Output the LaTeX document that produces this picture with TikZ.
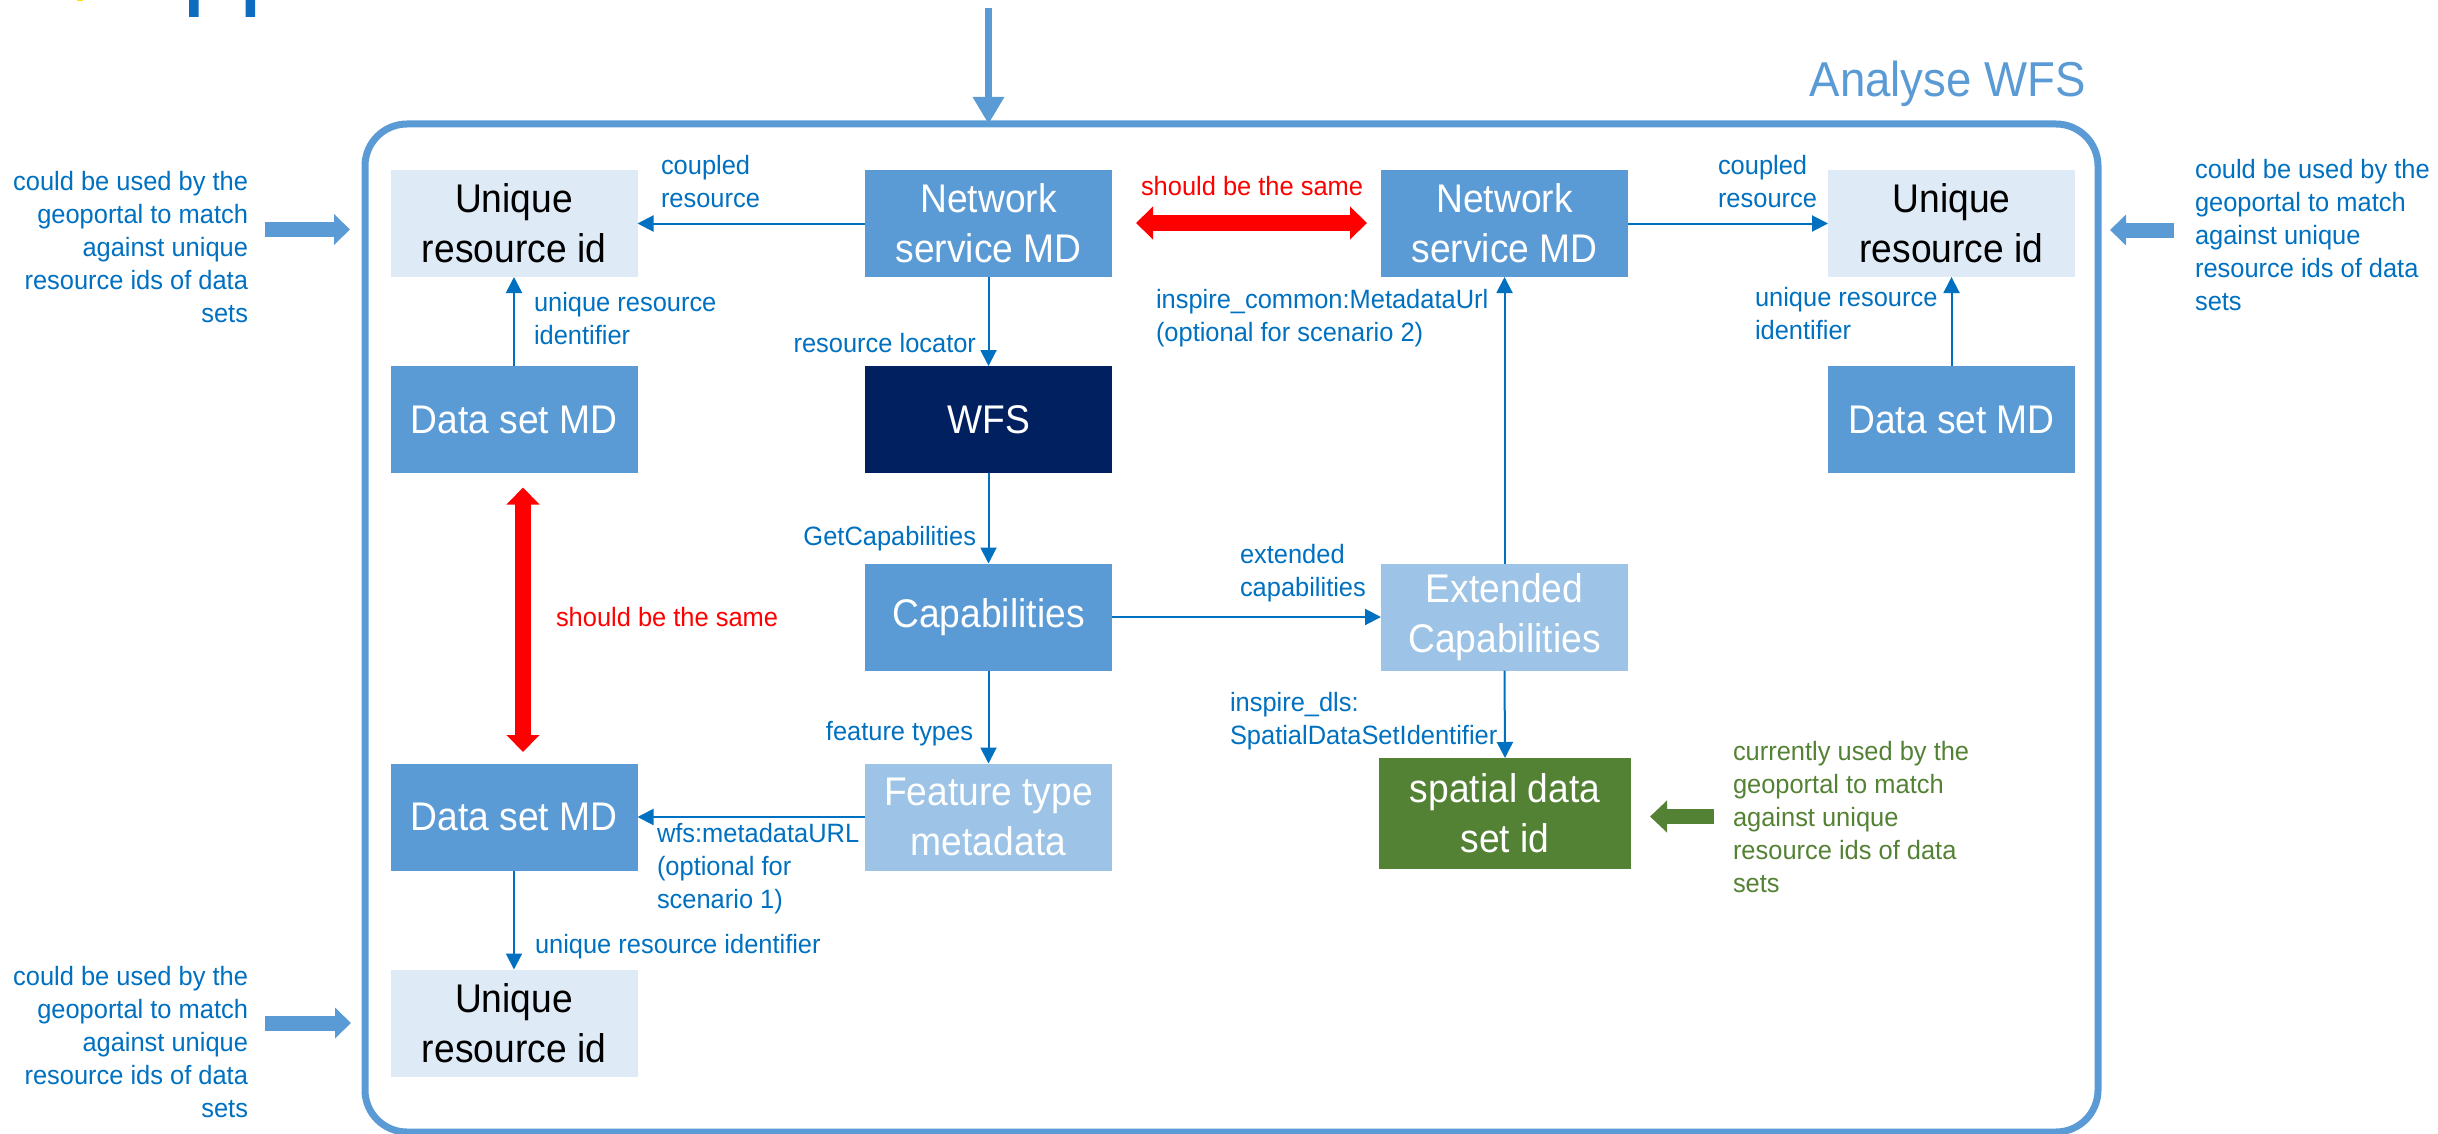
\documentclass[tikz,border=0pt]{standalone}
\usepackage{fontspec}
\setmainfont{Liberation Sans}
\newfontfamily\lblfont[FakeStretch=0.96]{Liberation Sans}
\newfontfamily\boxfont[FakeStretch=0.93]{Liberation Sans}
\usetikzlibrary{arrows.meta}
\definecolor{midblue}{HTML}{5B9BD5}
\definecolor{palefill}{HTML}{DEEAF6}
\definecolor{lightfill}{HTML}{9DC3E6}
\definecolor{navyfill}{HTML}{002060}
\definecolor{greenfill}{HTML}{548235}
\definecolor{lblblue}{HTML}{0070C0}
\definecolor{ecblue}{HTML}{0F47AF}
\tikzset{
  x=1pt,y=-1pt,
  mdbox/.style={inner sep=0pt,outer sep=0pt,minimum width=247pt,minimum height=107pt,align=center,font=\boxfont\fontsize{40}{50}\selectfont},
  midbox/.style={mdbox,fill=midblue,text=white},
  palebox/.style={mdbox,fill=palefill,text=black},
  lightbox/.style={mdbox,fill=lightfill,text=white},
  navybox/.style={mdbox,fill=navyfill,text=white},
  greenbox/.style={mdbox,fill=greenfill,text=white,minimum width=252pt,minimum height=111pt},
  lbl/.style={inner sep=0pt,outer sep=0pt,text=lblblue,font=\lblfont\fontsize{26.5}{33}\selectfont},
  lblL/.style={lbl,anchor=west,align=left},
  lblR/.style={lbl,anchor=east,align=right},
  redlbl/.style={lblL,text=red},
  thinarrow/.style={draw=lblblue,line width=2pt,-{Triangle[length=16pt,width=16pt]}},
  bluearrow/.style={draw=midblue,line width=15pt,-{Triangle[length=16pt,width=30pt]}},
  greenarrow/.style={draw=greenfill,line width=15pt,-{Triangle[length=17pt,width=31pt]}},
  redarrow/.style={draw=red,line width=16pt,{Triangle[length=17pt,width=32pt]}-{Triangle[length=17pt,width=32pt]}},
  toparrow/.style={draw=midblue,line width=6.5pt,-{Triangle[length=27pt,width=30pt]}},
}
\begin{document}
\begin{tikzpicture}
\useasboundingbox (0,0) rectangle (2438,1134);
\clip (0,0) rectangle (2438,1134);
% frame
\node[draw=midblue,line width=7pt,rounded corners=42pt,inner sep=0pt,outer sep=0pt,minimum width=1733pt,minimum height=1008pt] (frame) at (1231.5,628) {};
\node[inner sep=0pt,anchor=east,text=midblue,font=\boxfont\fontsize{49}{55}\selectfont] (title) at (2086,84) {Analyse WFS};
% boxes
\node[palebox] (uri1) at (514,223.5) {Unique\\resource id};
\node[midbox] (ns1) at (988.5,223.5) {Network\\service MD};
\node[midbox] (ns2) at (1504.5,223.5) {Network\\service MD};
\node[palebox] (uri2) at (1951.5,223.5) {Unique\\resource id};
\node[midbox] (ds1) at (514,419.5) {Data set MD};
\node[navybox] (wfs) at (988.5,419.5) {WFS};
\node[midbox] (ds2) at (1951.5,419.5) {Data set MD};
\node[midbox] (cap) at (988.5,617) {Capabilities};
\node[lightbox] (ext) at (1504.5,617) {Extended\\Capabilities};
\node[midbox] (ds3) at (514,817) {Data set MD};
\node[lightbox] (ft) at (988.5,817) {Feature type\\metadata};
\node[greenbox] (sp) at (1505,813.5) {spatial data\\set id};
\node[palebox] (uri3) at (514,1023) {Unique\\resource id};
% connectors
\draw[thinarrow] (ns1.west) -- (uri1.east);
\draw[thinarrow] (ns2.east) -- (uri2.west);
\draw[thinarrow] (ds1.north) -- (uri1.south);
\draw[thinarrow] (ds2.north) -- (uri2.south);
\draw[thinarrow] (ns1.south) -- (wfs.north);
\draw[thinarrow] (wfs.south) -- (cap.north);
\draw[thinarrow] (cap.south) -- (ft.north);
\draw[thinarrow] (cap.east) -- (ext.west);
\draw[thinarrow] (ext.north) -- (ns2.south);
\draw[thinarrow] (ext.south) -- (sp.north);
\draw[thinarrow] (ft.west) -- (ds3.east);
\draw[thinarrow] (ds3.south) -- (uri3.north);
% block arrows
\coordinate (topstart) at (988.5,8);
\draw[toparrow] (topstart) -- (topstart |- frame.north);
\coordinate (la1) at (265,229.5); \coordinate (la1e) at (350,229.5);
\draw[bluearrow] (la1) -- (la1e);
\coordinate (la3) at (265,1023); \coordinate (la3e) at (351,1023);
\draw[bluearrow] (la3) -- (la3e);
\coordinate (ra1) at (2174,230); \coordinate (ra1e) at (2110,230);
\draw[bluearrow] (ra1) -- (ra1e);
\coordinate (ga) at (1714,816.5); \coordinate (gae) at (1650,816.5);
\draw[greenarrow] (ga) -- (gae);
\coordinate (rh1) at (1136,223); \coordinate (rh2) at (1367,223);
\draw[redarrow] (rh1) -- (rh2);
\coordinate (rv1) at (523,487.5); \coordinate (rv2) at (523,752);
\draw[redarrow] (rv1) -- (rv2);
% labels
\node[lblR] (t1) at (248,247.5) {could be used by the\\geoportal to match\\against unique\\resource ids of data\\sets};
\node[lblR] (t3) at (248,1042) {could be used by the\\geoportal to match\\against unique\\resource ids of data\\sets};
\node[lblL] (t2) at (2195,235) {could be used by the\\geoportal to match\\against unique\\resource ids of data\\sets};
\node[lblL,text=greenfill] (t4) at (1733,817) {currently used by the\\geoportal to match\\against unique\\resource ids of data\\sets};
\node[lblL] (c1) at (661,181.5) {coupled\\resource};
\node[lblL] (c2) at (1718,181.5) {coupled\\resource};
\node[lblL] (u1) at (534,319) {unique resource\\identifier};
\node[lblL] (u2) at (1755,314) {unique resource\\identifier};
\node[lblL] (u3) at (535,947) {unique resource identifier};
\node[lblR] (rl) at (976,343) {resource locator};
\node[lblR] (gc) at (976,539) {GetCapabilities};
\node[lblR] (fty) at (973,734) {feature types};
\node[lblL] (wm) at (657,869) {wfs:metadataURL\\(optional for\\scenario 1)};
\node[lblL] (ic) at (1156,318) {inspire\_common:MetadataUrl\\(optional for scenario 2)};
\node[lblL] (ec) at (1240,573.5) {extended\\capabilities};
\node[lblL] (id) at (1230,721) {inspire\_dls:\\SpatialDataSetIdentifier};
\node[redlbl] (r1) at (1141,186) {should be the same};
\node[redlbl] (r2) at (556,617) {should be the same};
% logo fragments
\fill[ecblue!80!cyan] (189,0) rectangle (198.5,17) (245.5,0) rectangle (255,17);
\fill[yellow!80!orange] (77,0) rectangle (83,1.2);
\end{tikzpicture}
\end{document}
